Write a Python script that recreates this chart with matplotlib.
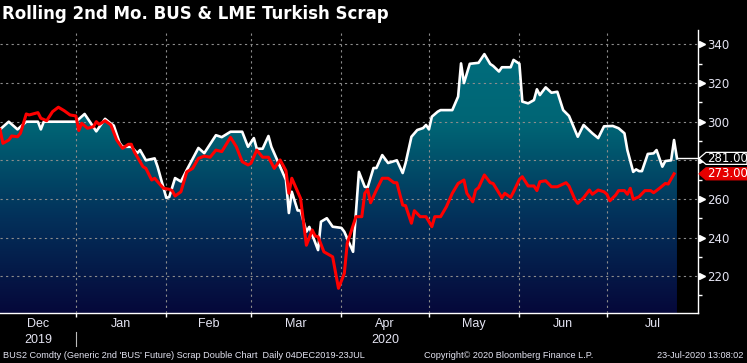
import numpy as np
import pandas as pd
import matplotlib
matplotlib.use("Agg")
import matplotlib.pyplot as plt
import matplotlib.dates as mdates
import matplotlib.transforms as mtransforms
from matplotlib.colors import LinearSegmentedColormap
from matplotlib.patches import Polygon

# BUS2 Comdty (white line with gradient fill)
bus_dates = ['2019-12-04', '2019-12-07', '2019-12-10', '2019-12-13', '2019-12-17', '2019-12-18',
             '2019-12-19', '2019-12-30', '2020-01-02', '2020-01-06', '2020-01-09', '2020-01-11',
             '2020-01-12', '2020-01-14', '2020-01-15', '2020-01-18', '2020-01-20', '2020-01-21',
             '2020-01-23', '2020-01-26', '2020-01-27', '2020-01-30', '2020-01-31', '2020-02-02',
             '2020-02-04', '2020-02-06', '2020-02-10', '2020-02-12', '2020-02-16', '2020-02-18',
             '2020-02-21', '2020-02-25', '2020-02-27', '2020-02-29', '2020-03-01', '2020-03-03',
             '2020-03-05', '2020-03-06', '2020-03-09', '2020-03-11', '2020-03-12', '2020-03-13',
             '2020-03-15', '2020-03-16', '2020-03-18', '2020-03-19', '2020-03-22', '2020-03-23',
             '2020-03-25', '2020-03-27', '2020-03-30', '2020-03-31', '2020-04-03', '2020-04-05',
             '2020-04-07', '2020-04-08', '2020-04-10', '2020-04-11', '2020-04-13', '2020-04-15',
             '2020-04-18', '2020-04-20', '2020-04-21', '2020-04-23', '2020-04-25', '2020-04-27',
             '2020-04-28', '2020-04-29', '2020-04-30', '2020-05-02', '2020-05-03', '2020-05-07',
             '2020-05-09', '2020-05-10', '2020-05-11', '2020-05-13', '2020-05-16', '2020-05-18',
             '2020-05-20', '2020-05-21', '2020-05-23', '2020-05-24', '2020-05-27', '2020-05-28',
             '2020-05-30', '2020-05-31', '2020-06-02', '2020-06-04', '2020-06-05', '2020-06-06',
             '2020-06-08', '2020-06-10', '2020-06-12', '2020-06-14', '2020-06-16', '2020-06-19',
             '2020-06-21', '2020-06-24', '2020-06-26', '2020-06-28', '2020-07-01', '2020-07-03',
             '2020-07-05', '2020-07-06', '2020-07-08', '2020-07-09', '2020-07-10', '2020-07-11',
             '2020-07-13', '2020-07-15', '2020-07-16', '2020-07-18', '2020-07-19', '2020-07-21',
             '2020-07-22', '2020-07-23']
bus_vals = [296, 300, 296, 300, 300, 296,
            300, 300, 304, 295, 301.5, 299,
            298, 289, 287, 287, 283.7, 285.3,
            280, 281, 276.7, 260.5, 261, 270.8,
            269, 275, 286.4, 283.7, 293, 292,
            294.8, 294.8, 287, 291.5, 286, 286,
            292.6, 287, 276.7, 269.8, 252.7, 263.7,
            254, 254, 243, 245.5, 233.5, 248.2,
            250, 245.6, 245, 243, 232.6, 274,
            266.3, 266, 276, 276, 282.7, 278.6,
            280, 273.4, 278.6, 292.2, 295.7, 296.7,
            298.3, 296, 302.6, 305.2, 306, 306,
            313, 330.2, 320, 330, 330.5, 335,
            329.9, 328.9, 326, 328.2, 328.2, 332,
            330, 310.4, 309.5, 311.2, 316.8, 313.8,
            317.8, 315, 315.5, 306, 303, 292.2,
            298.3, 294, 291.5, 297.6, 297.8, 296.6,
            294, 285.3, 274, 275.3, 274.4, 274.4,
            283.3, 283.6, 285.3, 276.7, 279.6, 280,
            290.5, 281]

# LME Turkish scrap (red line)
lme_dates = ['2019-12-04', '2019-12-05', '2019-12-07', '2019-12-08', '2019-12-10', '2019-12-11',
             '2019-12-13', '2019-12-14', '2019-12-17', '2019-12-18', '2019-12-20', '2019-12-22',
             '2019-12-24', '2019-12-26', '2019-12-28', '2019-12-30', '2019-12-31', '2020-01-01',
             '2020-01-03', '2020-01-05', '2020-01-06', '2020-01-07', '2020-01-09', '2020-01-11',
             '2020-01-13', '2020-01-15', '2020-01-17', '2020-01-18', '2020-01-19', '2020-01-22',
             '2020-01-23', '2020-01-25', '2020-01-26', '2020-01-29', '2020-01-31', '2020-02-01',
             '2020-02-02', '2020-02-04', '2020-02-06', '2020-02-08', '2020-02-10', '2020-02-12',
             '2020-02-14', '2020-02-16', '2020-02-18', '2020-02-21', '2020-02-23', '2020-02-25',
             '2020-02-27', '2020-02-28', '2020-03-01', '2020-03-03', '2020-03-05', '2020-03-07',
             '2020-03-09', '2020-03-11', '2020-03-12', '2020-03-13', '2020-03-16', '2020-03-18',
             '2020-03-20', '2020-03-21', '2020-03-22', '2020-03-24', '2020-03-26', '2020-03-27',
             '2020-03-29', '2020-03-31', '2020-04-01', '2020-04-04', '2020-04-06', '2020-04-07',
             '2020-04-08', '2020-04-09', '2020-04-11', '2020-04-13', '2020-04-15', '2020-04-17',
             '2020-04-18', '2020-04-20', '2020-04-21', '2020-04-23', '2020-04-24', '2020-04-26',
             '2020-04-28', '2020-04-30', '2020-05-01', '2020-05-03', '2020-05-05', '2020-05-07',
             '2020-05-09', '2020-05-11', '2020-05-12', '2020-05-14', '2020-05-15', '2020-05-16',
             '2020-05-18', '2020-05-20', '2020-05-21', '2020-05-24', '2020-05-25', '2020-05-27',
             '2020-05-28', '2020-05-30', '2020-05-31', '2020-06-02', '2020-06-04', '2020-06-05',
             '2020-06-06', '2020-06-08', '2020-06-10', '2020-06-12', '2020-06-15', '2020-06-16',
             '2020-06-18', '2020-06-19', '2020-06-21', '2020-06-23', '2020-06-24', '2020-06-26',
             '2020-06-28', '2020-06-29', '2020-06-30', '2020-07-02', '2020-07-03', '2020-07-05',
             '2020-07-06', '2020-07-07', '2020-07-08', '2020-07-10', '2020-07-12', '2020-07-14',
             '2020-07-15', '2020-07-17', '2020-07-19', '2020-07-20', '2020-07-22']
lme_vals = [296, 288.8, 290.5, 292.6, 292.2, 294,
            304, 303.5, 304.7, 301.8, 300.5, 305.2,
            307.5, 305.7, 303.5, 303, 295.4, 299.2,
            296.6, 297.4, 300, 298.6, 300.5, 298.3,
            290.5, 286.2, 288.3, 288.3, 284.5, 276.7,
            275.8, 269.8, 270.7, 265.5, 265, 264.3,
            261.5, 263.7, 274, 275.8, 281, 282.2,
            281.6, 285.3, 284.5, 291.9, 287, 279.3,
            277.6, 278.4, 285.3, 281.6, 281.6, 275.8,
            280.2, 274.6, 262.9, 270.7, 260.3, 236,
            243.9, 240.8, 240.4, 232.6, 230.9, 230,
            213.7, 221.4, 237, 250.8, 250.8, 262.9,
            265, 258, 264.6, 270.7, 270.7, 268.4,
            268.4, 256.8, 256.5, 247.4, 253.9, 250.8,
            250.8, 245.6, 250.8, 250.8, 256, 262.9,
            268, 269.8, 262.9, 258.5, 264.6, 265.8,
            272.4, 268.4, 268, 260.6, 262.9, 260.8,
            263.7, 270.1, 271.5, 266.7, 266.7, 264.3,
            268.9, 269.4, 266.3, 266.3, 268.4, 266.7,
            259.8, 257.7, 260.6, 264.6, 262.4, 264.6,
            263.7, 262.4, 259, 262, 264.3, 264.3,
            262.4, 265.5, 259.8, 261.1, 264.3, 264.3,
            263.2, 265.5, 268, 267.7, 273]

months = ['Dec', 'Jan', 'Feb', 'Mar', 'Apr', 'May', 'Jun', 'Jul']
month_starts = ['2019-12-01', '2020-01-01', '2020-02-01', '2020-03-01', '2020-04-01',
                '2020-05-01', '2020-06-01', '2020-07-01']
years = {'Dec': '2019', 'Apr': '2020'}
y_major = [220, 240, 260, 280, 300, 320, 340]
y_minor = [210, 230, 250, 270, 290, 310, 330]

title = "Rolling 2nd Mo. BUS & LME Turkish Scrap"
footer_left = "BUS2 Comdty (Generic 2nd 'BUS' Future) Scrap Double Chart  Daily 04DEC2019-23JUL"
footer_mid = "Copyright\u00a9 2020 Bloomberg Finance L.P."
footer_right = "23-Jul-2020 13:08:02"

label_col = '#e4e4f2'
narrow = ['Liberation Sans', 'DejaVu Sans']

bx = mdates.date2num(pd.to_datetime(bus_dates))
lx = mdates.date2num(pd.to_datetime(lme_dates))
x0 = mdates.date2num(pd.Timestamp('2019-12-04'))
x1 = mdates.date2num(pd.Timestamp('2020-07-30 05:00'))
y0, y1 = 200.9, 347.5
ax_w, ax_h = 698, 283          # axes size in pixels
px = (y1 - y0) / ax_h          # data units per pixel (vertical)

fig = plt.figure(figsize=(7.47, 3.63), dpi=100, facecolor='black')
ax = fig.add_axes([0, 50 / 363, ax_w / 747, ax_h / 363])
ax.set_facecolor('black')
ax.set_xlim(x0, x1)
ax.set_ylim(y0, y1)

# gradient under the BUS line
cmap = LinearSegmentedColormap.from_list('bbg', ['#06083a', '#03305a', '#006575', '#00707f'])
grad = np.linspace(0, 1, 256).reshape(-1, 1)
im = ax.imshow(grad, extent=[x0, x1, y0, y1], origin='lower', aspect='auto',
               cmap=cmap, zorder=1, interpolation='bilinear')
verts = list(zip(bx, bus_vals)) + [(bx[-1], y0), (bx[0], y0)]
clip = Polygon(verts, closed=True, transform=ax.transData, fc='none', ec='none')
ax.add_patch(clip)
im.set_clip_path(clip)

# grid at month boundaries (Bloomberg puts them just before the 1st)
bounds = mdates.date2num(pd.to_datetime(month_starts[1:]) - pd.Timedelta(days=2))
ax.set_xticks(bounds)
ax.set_xticklabels([])
ax.set_yticks(y_major)
# the 280 label sits under the last-value tag, as in the Bloomberg screen
ax.set_yticklabels(['' if v == 280 else str(v) for v in y_major])
ax.set_yticks(y_minor, minor=True)
ax.grid(True, which='major', color='#8c8c8c', linestyle=(0, (2, 3)), linewidth=0.8)
ax.set_axisbelow(False)
for gl in ax.get_xgridlines() + ax.get_ygridlines():
    gl.set_zorder(2)

ax.plot(bx, bus_vals, color='white', lw=1.9, zorder=4, solid_joinstyle='round')
ax.plot(lx, lme_vals, color='#ff0000', lw=2.2, zorder=5, solid_joinstyle='round')
ax.plot([bx[-1], x1], [bus_vals[-1], bus_vals[-1]], color='white', lw=1.0, zorder=4)

for s in ['top', 'left']:
    ax.spines[s].set_visible(False)
for s in ['bottom', 'right']:
    ax.spines[s].set_color('white')
    ax.spines[s].set_linewidth(1.0)

ax.yaxis.tick_right()
ax.tick_params(axis='y', which='major', colors='white', labelcolor=label_col,
               length=3.5, width=1, pad=3, labelsize=8.5)
ax.tick_params(axis='y', which='minor', colors='white', length=3, width=1)
ax.tick_params(axis='x', colors='white', length=3, width=1)

# arrow heads on the major y ticks
tri = mtransforms.blended_transform_factory(ax.transAxes, ax.transData)
ax.plot([1 + 4 / ax_w] * len(y_major), y_major, ls='none', marker='>', ms=4,
        color='white', transform=tri, clip_on=False, zorder=6)


def value_tag(val, face, edge):
    h = 6 * px
    shape = [(1 + 1 / ax_w, val), (1 + 8 / ax_w, val + h), (1 + 49 / ax_w, val + h),
             (1 + 49 / ax_w, val - h), (1 + 8 / ax_w, val - h)]
    ax.add_patch(Polygon(shape, closed=True, transform=tri, fc=face, ec=edge, lw=0.9,
                         clip_on=False, zorder=7))
    ax.text(1 + 9 / ax_w, val, f'{val:.2f}', transform=tri, color='white', fontsize=8.5,
            va='center', ha='left', clip_on=False, zorder=8)


value_tag(bus_vals[-1], 'black', 'white')
value_tag(lme_vals[-1], '#e60000', '#e60000')

# month labels centred in each visible month span
edges = np.concatenate([[x0], bounds, [x1]])
lab = mtransforms.blended_transform_factory(ax.transData, ax.transAxes)
for i, m in enumerate(months):
    mid = (edges[i] + edges[i + 1]) / 2
    ax.text(mid, -11 / ax_h, m, transform=lab, color=label_col, fontsize=9,
            family=narrow, ha='center', va='center', clip_on=False)
    if m in years:
        ax.text(mid, -27 / ax_h, years[m], transform=lab, color=label_col, fontsize=9,
                family=narrow, ha='center', va='center', clip_on=False)
ax.plot([bounds[0], bounds[0]], [-19 / ax_h, -33 / ax_h], color='#bbbbbb', lw=0.8,
        transform=lab, clip_on=False)

fig.text(2 / 747, 1 - 14 / 363, title, color='white', fontsize=12, fontweight='bold',
         ha='left', va='center')
fig.text(3 / 747, 8 / 363, footer_left, color=label_col, fontsize=6.6, family=narrow,
         ha='left', va='center')
fig.text(424 / 747, 8 / 363, footer_mid, color=label_col, fontsize=6.6, family=narrow,
         ha='left', va='center')
fig.text(743 / 747, 8 / 363, footer_right, color=label_col, fontsize=6.6, family=narrow,
         ha='right', va='center')

fig.savefig('out.png', dpi=100, facecolor='black')
